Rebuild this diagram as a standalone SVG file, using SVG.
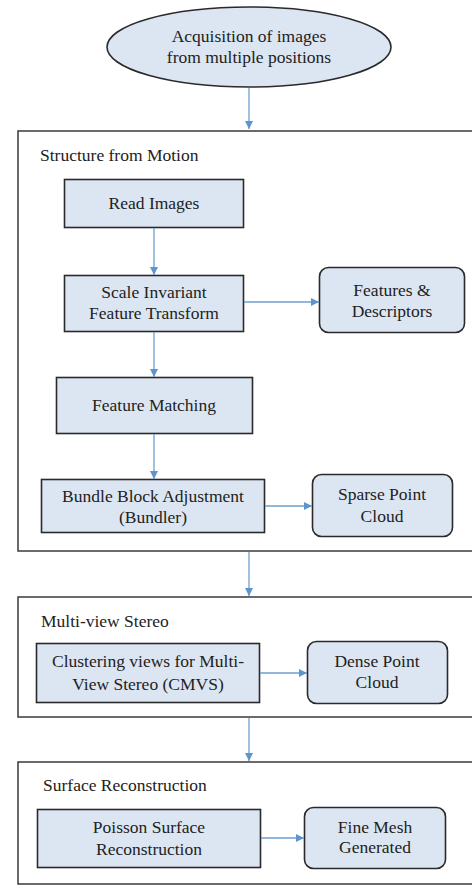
<svg xmlns="http://www.w3.org/2000/svg" width="472" height="886" viewBox="0 0 472 886">
<style>
  .frame { fill: none; stroke: #3a3a3a; stroke-width: 1.5; }
  .box { fill: #dce6f2; stroke: #2a2a2a; stroke-width: 1.6; }
  .t { font-size: 17.5px; fill: #222; text-anchor: middle; }
  .lbl { font-size: 17.5px; fill: #222; }
  .conn { stroke: #6d9fcf; stroke-width: 1.3; fill: none; marker-end: url(#ah); }
</style>
<defs>
  <marker id="ah" viewBox="0 0 10 10" refX="10" refY="5" markerWidth="8" markerHeight="8" markerUnits="userSpaceOnUse" orient="auto">
    <path d="M0,0 L10,5 L0,10 z" fill="#5b95cc"/>
  </marker>
</defs>
<rect width="472" height="886" fill="#ffffff"/>
<g font-family="'Liberation Serif', 'Times New Roman', Times, 'DejaVu Serif', serif">
<g id="start">
  <ellipse class="box" cx="249" cy="47" rx="142" ry="40"/>
  <text class="t" x="249" y="42">Acquisition of images</text>
  <text class="t" x="249" y="63">from multiple positions</text>
</g>

<g id="sfm">
  <rect class="frame" x="18" y="131" width="470" height="420"/>
  <text class="lbl" x="40" y="161">Structure from Motion</text>
</g>
<g id="read">
  <rect class="box" x="64.5" y="179.5" width="179" height="48"/>
  <text class="t" x="154" y="209">Read Images</text>
</g>
<g id="sift">
  <rect class="box" x="64.5" y="275.5" width="179" height="56"/>
  <text class="t" x="154" y="298">Scale Invariant</text>
  <text class="t" x="154" y="319">Feature Transform</text>
</g>
<g id="features">
  <rect class="box" x="319.5" y="267.5" width="145" height="65" rx="9"/>
  <text class="t" x="392" y="296">Features &amp;</text>
  <text class="t" x="392" y="317">Descriptors</text>
</g>
<g id="matching">
  <rect class="box" x="56.5" y="377.5" width="196" height="56"/>
  <text class="t" x="154" y="411">Feature Matching</text>
</g>
<g id="bundle">
  <rect class="box" x="41.5" y="479.5" width="223" height="53"/>
  <text class="t" x="153" y="502">Bundle Block Adjustment</text>
  <text class="t" x="153" y="523">(Bundler)</text>
</g>
<g id="sparse">
  <rect class="box" x="312.5" y="474.5" width="140" height="62" rx="9"/>
  <text class="t" x="382" y="500">Sparse Point</text>
  <text class="t" x="382" y="522">Cloud</text>
</g>

<g id="mvs">
  <rect class="frame" x="18" y="597" width="470" height="120"/>
  <text class="lbl" x="41" y="627">Multi-view Stereo</text>
</g>
<g id="cmvs">
  <rect class="box" x="36.5" y="643.5" width="223" height="59"/>
  <text class="t" x="148" y="667">Clustering views for Multi-</text>
  <text class="t" x="148" y="690">View Stereo (CMVS)</text>
</g>
<g id="dense">
  <rect class="box" x="307.5" y="641.5" width="140" height="62" rx="9"/>
  <text class="t" x="377" y="667">Dense Point</text>
  <text class="t" x="377" y="688">Cloud</text>
</g>

<g id="surface">
  <rect class="frame" x="18" y="762" width="470" height="122"/>
  <text class="lbl" x="43" y="791">Surface Reconstruction</text>
</g>
<g id="poisson">
  <rect class="box" x="37.5" y="809.5" width="223" height="58"/>
  <text class="t" x="149" y="833">Poisson Surface</text>
  <text class="t" x="149" y="855">Reconstruction</text>
</g>
<g id="mesh">
  <rect class="box" x="304.5" y="807.5" width="141" height="61" rx="9"/>
  <text class="t" x="375" y="833">Fine Mesh</text>
  <text class="t" x="375" y="853">Generated</text>
</g>
</g>
<g id="connectors">
  <line class="conn" x1="249" y1="88" x2="249" y2="129"/>
  <line class="conn" x1="154" y1="228" x2="154" y2="275"/>
  <line class="conn" x1="244" y1="302" x2="319" y2="302"/>
  <line class="conn" x1="154" y1="332" x2="154" y2="377"/>
  <line class="conn" x1="154" y1="434" x2="154" y2="479"/>
  <line class="conn" x1="265" y1="506" x2="312" y2="506"/>
  <line class="conn" x1="249" y1="552" x2="249" y2="596"/>
  <line class="conn" x1="260" y1="673" x2="307" y2="673"/>
  <line class="conn" x1="249" y1="718" x2="249" y2="761"/>
  <line class="conn" x1="261" y1="838" x2="304" y2="838"/>
</g>
</svg>
